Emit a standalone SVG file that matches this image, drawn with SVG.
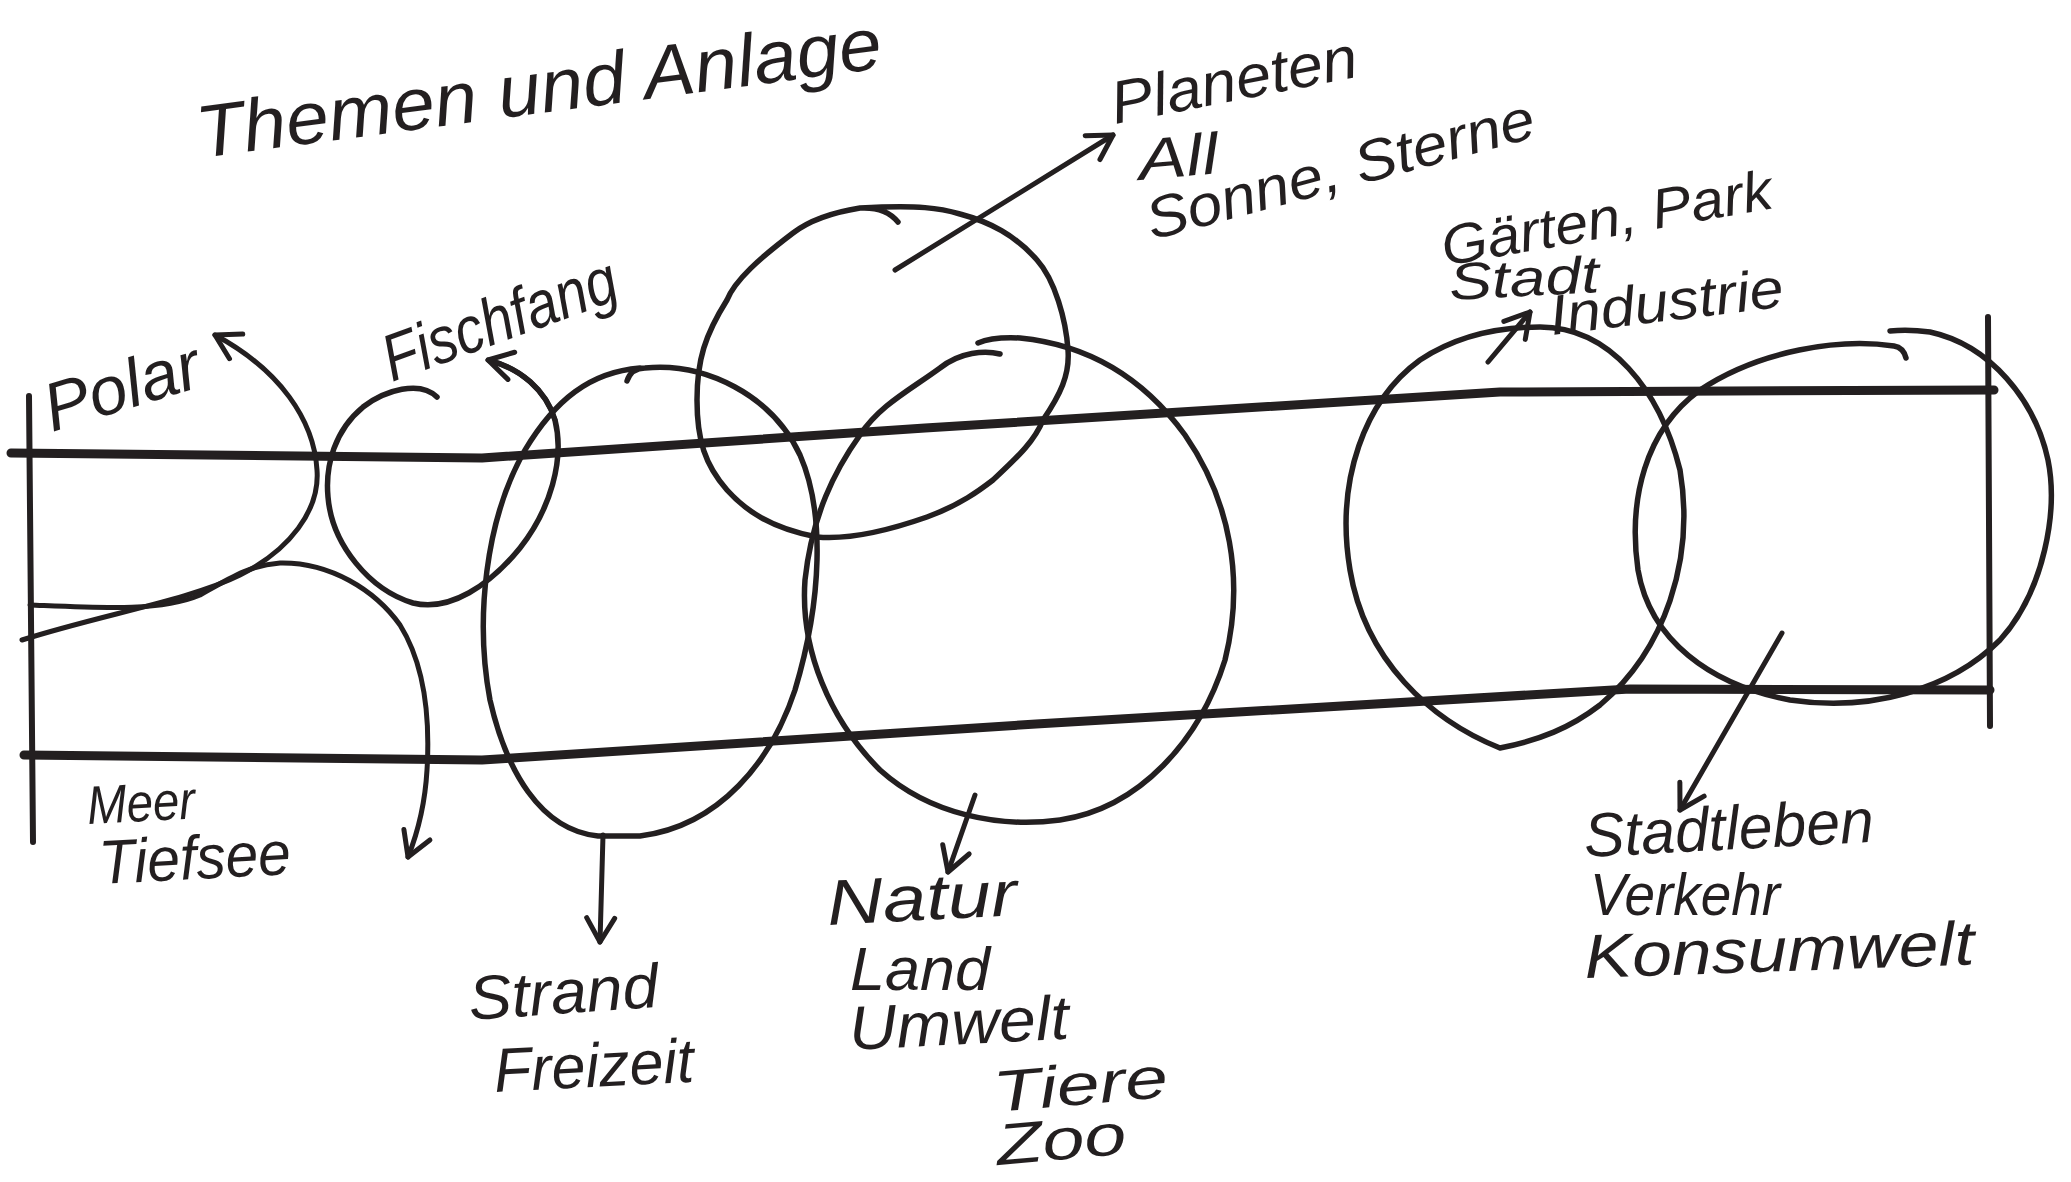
<svg xmlns="http://www.w3.org/2000/svg" width="2071" height="1182" viewBox="0 0 2071 1182">
<defs>
<style>
.ink{fill:none;stroke:#231f20;stroke-linecap:round;stroke-linejoin:round}
.band{stroke-width:9}
.edge{stroke-width:6}
.ring{stroke-width:5.5}
.arrow{stroke-width:5}
text{font-family:"Liberation Sans","DejaVu Sans",sans-serif;font-style:italic;fill:#231f20}
</style>
<marker id="head" viewBox="0 0 32 32" refX="28" refY="16" markerWidth="32" markerHeight="32" markerUnits="userSpaceOnUse" orient="auto" overflow="visible">
<path d="M4,2 L28,16 L4,30" fill="none" stroke="#231f20" stroke-width="5" stroke-linecap="round" stroke-linejoin="round"/>
</marker>
</defs>
<rect width="2071" height="1182" fill="#ffffff"/>

<g id="title">
<text x="200" y="158" font-size="74" textLength="690" lengthAdjust="spacingAndGlyphs" transform="rotate(-7.5 200 158)">Themen und Anlage</text>
</g>

<g id="band">
<path class="ink edge" d="M29,396 L33,842"/>
<path class="ink edge" d="M1988,317 L1990,726"/>
<path class="ink band" d="M11,453 L482,458 L925,428 L1500,392 L1994,390"/>
<path class="ink band" d="M24,755 L482,760 L1036,724 L1630,689 L1990,690"/>
</g>

<g id="node-polar">
<text x="52" y="432" font-size="68" textLength="160" lengthAdjust="spacingAndGlyphs" transform="rotate(-17 52 432)">Polar</text>
</g>

<g id="node-meer">
<text x="88" y="824" font-size="54" textLength="108" lengthAdjust="spacingAndGlyphs" transform="rotate(-3 88 824)">Meer</text>
<text x="100" y="884" font-size="62" textLength="192" lengthAdjust="spacingAndGlyphs" transform="rotate(-3 100 884)">Tiefsee</text>
</g>

<g id="node-fischfang">
<path class="ink ring" d="M437,397 C420,380 385,390 363,407 C335,430 325,465 328,497 C332,545 370,590 413,603 C450,612 490,585 520,548 C550,510 565,460 555,420 C546,390 520,368 490,361"/>
<text x="392" y="382" font-size="66" textLength="245" lengthAdjust="spacingAndGlyphs" transform="rotate(-20 392 382)">Fischfang</text>
</g>

<g id="node-strand">
<path class="ink ring" d="M627,381 C630,372 636,368 645,368 C705,362 772,395 800,455 C825,512 822,600 795,690 C772,760 720,826 640,836 L598,836 C540,830 506,770 490,700 C475,620 485,520 525,450 C555,400 590,372 640,368"/>
<text x="470" y="1020" font-size="62" textLength="190" lengthAdjust="spacingAndGlyphs" transform="rotate(-4 470 1020)">Strand</text>
<text x="495" y="1092" font-size="62" textLength="200" lengthAdjust="spacingAndGlyphs" transform="rotate(-3 495 1092)">Freizeit</text>
</g>

<g id="node-planeten">
<path class="ink ring" d="M898,222 C890,212 878,207 860,208 C835,212 810,220 793,233 C760,258 735,280 727,300 C705,335 697,360 697,400 C697,440 705,465 727,490 C745,510 770,528 817,537 C850,540 890,530 927,517 C960,505 980,490 993,480 C1020,455 1035,440 1043,420 C1060,395 1070,375 1068,350 C1066,320 1055,280 1037,260 C1015,235 990,222 960,214 C940,208 920,205 860,208"/>
<text x="1115" y="124" font-size="60" textLength="250" lengthAdjust="spacingAndGlyphs" transform="rotate(-11 1115 124)">Planeten</text>
<text x="1140" y="180" font-size="58" textLength="80" lengthAdjust="spacingAndGlyphs" transform="rotate(-5 1140 180)">All</text>
<text x="1152" y="240" font-size="58" textLength="400" lengthAdjust="spacingAndGlyphs" transform="rotate(-15 1152 240)">Sonne, Sterne</text>
</g>

<g id="node-natur">
<path class="ink ring" d="M1000,354 C985,350 960,352 940,368 C910,390 880,405 860,435 C835,470 812,515 805,580 C800,650 830,720 880,770 C930,815 1000,828 1060,820 C1140,808 1200,740 1225,660 C1245,580 1230,500 1185,435 C1145,380 1090,345 1020,338 C1000,337 985,340 978,343"/>
<text x="828" y="925" font-size="64" textLength="190" lengthAdjust="spacingAndGlyphs" transform="rotate(-3 828 925)">Natur</text>
<text x="850" y="990" font-size="62" textLength="140" lengthAdjust="spacingAndGlyphs">Land</text>
<text x="850" y="1050" font-size="62" textLength="220" lengthAdjust="spacingAndGlyphs" transform="rotate(-3 850 1050)">Umwelt</text>
<text x="995" y="1112" font-size="58" textLength="175" lengthAdjust="spacingAndGlyphs" transform="rotate(-5 995 1112)">Tiere</text>
<text x="998" y="1165" font-size="58" textLength="130" lengthAdjust="spacingAndGlyphs" transform="rotate(-5 998 1165)">Zoo</text>
</g>

<g id="node-gaerten">
<path class="ink ring" d="M1540,327 C1610,327 1660,390 1680,470 C1695,560 1665,650 1600,705 C1570,728 1540,740 1500,748 C1430,720 1365,660 1350,570 C1335,480 1365,400 1420,360 C1455,337 1495,327 1540,327"/>
<text x="1445" y="266" font-size="56" textLength="335" lengthAdjust="spacingAndGlyphs" transform="rotate(-10 1445 266)">Gärten, Park</text>
<text x="1450" y="300" font-size="52" textLength="150" lengthAdjust="spacingAndGlyphs" transform="rotate(-3 1450 300)">Stadt</text>
<text x="1552" y="335" font-size="56" textLength="235" lengthAdjust="spacingAndGlyphs" transform="rotate(-7 1552 335)">Industrie</text>
</g>

<g id="node-stadtleben">
<path class="ink ring" d="M1906,358 C1904,350 1900,347 1894,346 C1840,338 1760,350 1700,390 C1645,430 1628,500 1638,570 C1650,640 1710,685 1790,700 C1870,712 1950,690 2000,640 C2045,590 2058,510 2048,460 C2035,400 1990,345 1930,332 C1915,330 1900,330 1890,331"/>
<text x="1585" y="857" font-size="62" textLength="290" lengthAdjust="spacingAndGlyphs" transform="rotate(-3 1585 857)">Stadtleben</text>
<text x="1590" y="915" font-size="60" textLength="190" lengthAdjust="spacingAndGlyphs">Verkehr</text>
<text x="1585" y="978" font-size="62" textLength="390" lengthAdjust="spacingAndGlyphs" transform="rotate(-2 1585 978)">Konsumwelt</text>
</g>

<g id="connectors">
<path class="ink arrow" marker-end="url(#head)" d="M22,640 C100,615 190,600 240,575 C290,550 320,510 317,470 C314,420 280,370 215,335"/>
<path class="ink arrow" marker-end="url(#head)" d="M30,605 C100,608 160,612 200,595 C230,578 250,565 280,563 C330,562 375,590 400,625 C425,665 430,720 427,770 C425,805 418,832 408,857"/>
<path class="ink arrow" marker-end="url(#head)" d="M555,420 C546,390 520,368 488,360"/>
<path class="ink arrow" marker-end="url(#head)" d="M603,835 L600,942"/>
<path class="ink arrow" marker-end="url(#head)" d="M975,795 L948,872"/>
<path class="ink arrow" marker-end="url(#head)" d="M895,270 L1113,135"/>
<path class="ink arrow" marker-end="url(#head)" d="M1488,362 L1530,312"/>
<path class="ink arrow" marker-end="url(#head)" d="M1782,633 L1680,810"/>
</g>
</svg>
